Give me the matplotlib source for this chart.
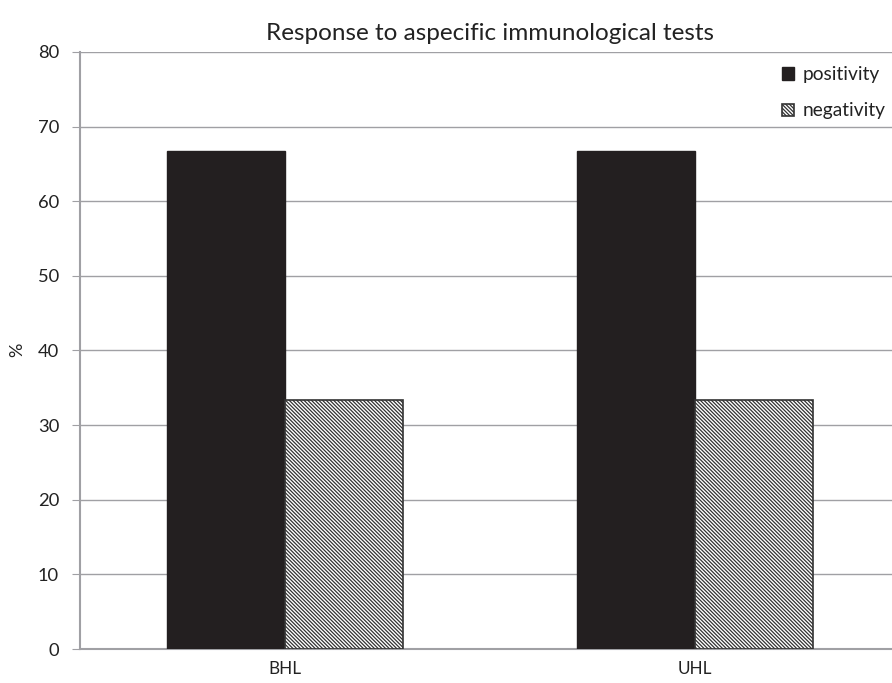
import matplotlib.pyplot as plt
import numpy as np

plt.rcParams['font.family'] = ['Lato', 'DejaVu Sans']
plt.rcParams['hatch.color'] = '#a6a6a6'
plt.rcParams['hatch.linewidth'] = 0.9

groups = ['BHL', 'UHL']
positivity = [66.7, 66.7]
negativity = [33.3, 33.3]

fig = plt.figure(figsize=(8.92, 6.83), dpi=100)
ax = fig.add_axes([80 / 892, 34 / 683, 820 / 892, 597 / 683])

ind = np.arange(len(groups))
w = 0.288
p1 = ax.bar(ind - w / 2, positivity, width=w, color='#231f20', edgecolor='#231f20', zorder=3)
p2 = ax.bar(ind + w / 2, negativity, width=w, color='white', edgecolor='#333333',
            hatch='\\' * 9, linewidth=1.2, zorder=3)

ax.set_xlim(-0.5, 1.5)
ax.set_ylim(0, 80)
ax.set_yticks(np.arange(0, 81, 10))
ax.set_xticks(ind)
ax.set_xticklabels(groups, fontsize=12.3, color='#222222')
ax.tick_params(axis='x', length=0, pad=9)
ax.tick_params(axis='y', length=6, color='#a0a0a4', labelsize=13.2, labelcolor='#222222', pad=9)
ax.yaxis.grid(True, color='#a0a0a4', linewidth=1.0, zorder=0)
for s in ['top', 'right']:
    ax.spines[s].set_visible(False)
for s in ['left', 'bottom']:
    ax.spines[s].set_color('#a0a0a4')
    ax.spines[s].set_linewidth(1.5)

fig.text(17 / 892, 1 - 350 / 683, '%', rotation=90, ha='center', va='center',
         fontsize=13, color='#222222')
fig.text(490 / 892, 1 - 33 / 683, 'Response to aspecific immunological tests',
         ha='center', va='center', fontsize=17.5, color='#222222')

leg = fig.legend((p1[0], p2[0]), ('positivity', 'negativity'), loc='upper right',
                 bbox_to_anchor=(1.012, 1 - 49 / 683), frameon=False, fontsize=13.8,
                 handlelength=0.6, handleheight=0.6, handletextpad=0.45, labelspacing=1.0)
for t in leg.get_texts():
    t.set_color('#222222')

plt.savefig('out.png', dpi=100)
